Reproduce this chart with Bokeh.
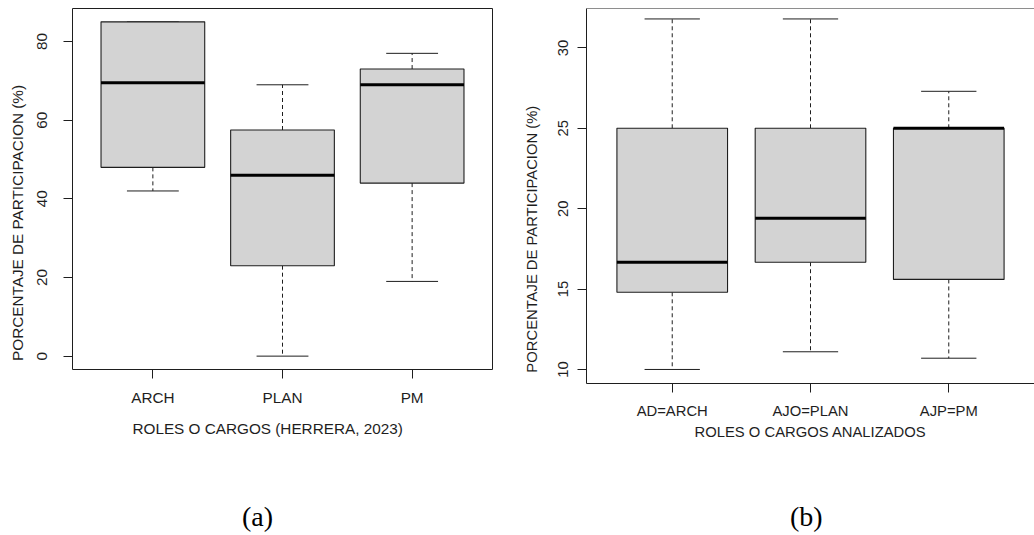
from bokeh.plotting import figure
from bokeh.models import FixedTicker, Range1d, Span, Div
from bokeh.layouts import row, column
from bokeh.embed import file_html
from bokeh.resources import INLINE

# ---- data: panel (a) ----
cats_a = ["ARCH", "PLAN", "PM"]
low_a = [42, 0, 19]
q1_a = [48, 23, 44]
med_a = [69.5, 46, 69]
q3_a = [85, 57.5, 73]
up_a = [85, 69, 77]
yticks_a = [0, 20, 40, 60, 80]

# ---- data: panel (b) ----
cats_b = ["AD=ARCH", "AJO=PLAN", "AJP=PM"]
low_b = [10, 11.1, 10.7]
q1_b = [14.8, 16.67, 15.6]
med_b = [16.67, 19.4, 25]
q3_b = [25, 25, 25]
up_b = [31.8, 31.8, 27.3]
yticks_b = [10, 15, 20, 25, 30]

LINE = "#1e1e1e"
FILL = "#d3d3d3"
TXT = "#1e1e1e"
NB = "\u00a0"


def make_panel(cats, low, q1, med, q3, up, yticks, x_rng, y_rng, width, height,
               mb_left, mb_right, mb_top, mb_bottom, fsize, ytitle, xtitle,
               xl_stand, xt_stand, yl_stand, yt_stand, outline=True):
    p = figure(width=width, height=height, output_backend="svg", toolbar_location=None,
               x_range=Range1d(*x_rng), y_range=Range1d(*y_rng),
               min_border_left=mb_left, min_border_right=mb_right,
               min_border_top=mb_top, min_border_bottom=mb_bottom)
    p.background_fill_color = "white"
    p.border_fill_color = "white"
    p.xgrid.visible = False
    p.ygrid.visible = False
    if outline:
        p.outline_line_color = LINE
        p.outline_line_width = 1
        p.outline_line_alpha = 1
    else:
        p.outline_line_color = None

    xs = list(range(1, len(cats) + 1))
    bw = 0.8
    cw = 0.4
    # whiskers
    p.segment(x0=xs, y0=q3, x1=xs, y1=up, line_color=LINE, line_width=1, line_dash="4 3")
    p.segment(x0=xs, y0=q1, x1=xs, y1=low, line_color=LINE, line_width=1, line_dash="4 3")
    # caps
    p.segment(x0=[x - cw / 2 for x in xs], y0=up, x1=[x + cw / 2 for x in xs], y1=up,
              line_color=LINE, line_width=1)
    p.segment(x0=[x - cw / 2 for x in xs], y0=low, x1=[x + cw / 2 for x in xs], y1=low,
              line_color=LINE, line_width=1)
    # boxes
    p.vbar(x=xs, width=bw, bottom=q1, top=q3, fill_color=FILL, line_color=LINE, line_width=1.1)
    # medians
    p.segment(x0=[x - bw / 2 for x in xs], y0=med, x1=[x + bw / 2 for x in xs], y1=med,
              line_color="black", line_width=3)

    for ax in (p.xaxis[0], p.yaxis[0]):
        ax.axis_line_color = None if outline else LINE
        ax.axis_line_width = 1
        ax.major_tick_line_color = LINE
        ax.major_tick_out = 9
        ax.major_tick_in = 0
        ax.minor_tick_line_color = None
        ax.major_label_text_font = "Liberation Sans"
        ax.major_label_text_font_size = fsize
        ax.major_label_text_color = TXT
        ax.axis_label_text_font = "Liberation Sans"
        ax.axis_label_text_font_size = fsize
        ax.axis_label_text_font_style = "normal"
        ax.axis_label_text_color = TXT

    xa = p.xaxis[0]
    xa.ticker = FixedTicker(ticks=xs)
    xa.major_label_overrides = {x: c for x, c in zip(xs, cats)}
    xa.axis_label = xtitle
    xa.major_label_standoff = xl_stand
    xa.axis_label_standoff = xt_stand

    ya = p.yaxis[0]
    ya.ticker = FixedTicker(ticks=yticks)
    ya.major_label_orientation = "parallel"
    ya.axis_label = ytitle
    ya.major_label_standoff = yl_stand
    ya.axis_label_standoff = yt_stand
    return p


p1 = make_panel(cats_a, low_a, q1_a, med_a, q3_a, up_a, yticks_a,
                (0.38, 3.62), (-3.4, 88.4), 518, 441, 72, 26, 8, 72, "15.3px",
                "PORCENTAJE DE PARTICIPACION (%)" + NB * 16,
                "ROLES O CARGOS (HERRERA, 2023)" + NB * 7,
                10, 11, 16, 9, outline=True)
y_top_b = 32.45
p2 = make_panel(cats_b, low_b, q1_b, med_b, q3_b, up_b, yticks_b,
                (0.38, 3.62), (9.127, y_top_b), 516, 455, 68, 0, 8, 72, "14.8px",
                "PORCENTAJE DE PARTICIPACION (%)" + NB * 21,
                "ROLES O CARGOS ANALIZADOS",
                10, 2, 9, 16, outline=False)
p2.add_layout(Span(location=y_top_b, dimension="width", line_color=LINE, line_width=1))

captions = Div(
    text=("<div style=\"position:relative;width:1034px;height:80px;"
          "font-family:'Liberation Serif',serif;font-size:28px;color:#000;\">"
          "<span style=\"position:absolute;left:237px;top:37px;\">(a)</span>"
          "<span style=\"position:absolute;left:785px;top:37px;\">(b)</span>"
          "</div>"),
    width=1034, height=80)

layout = column(row(p1, p2, spacing=0), captions, spacing=0)
open("out.html", "w").write(file_html(layout, INLINE))
